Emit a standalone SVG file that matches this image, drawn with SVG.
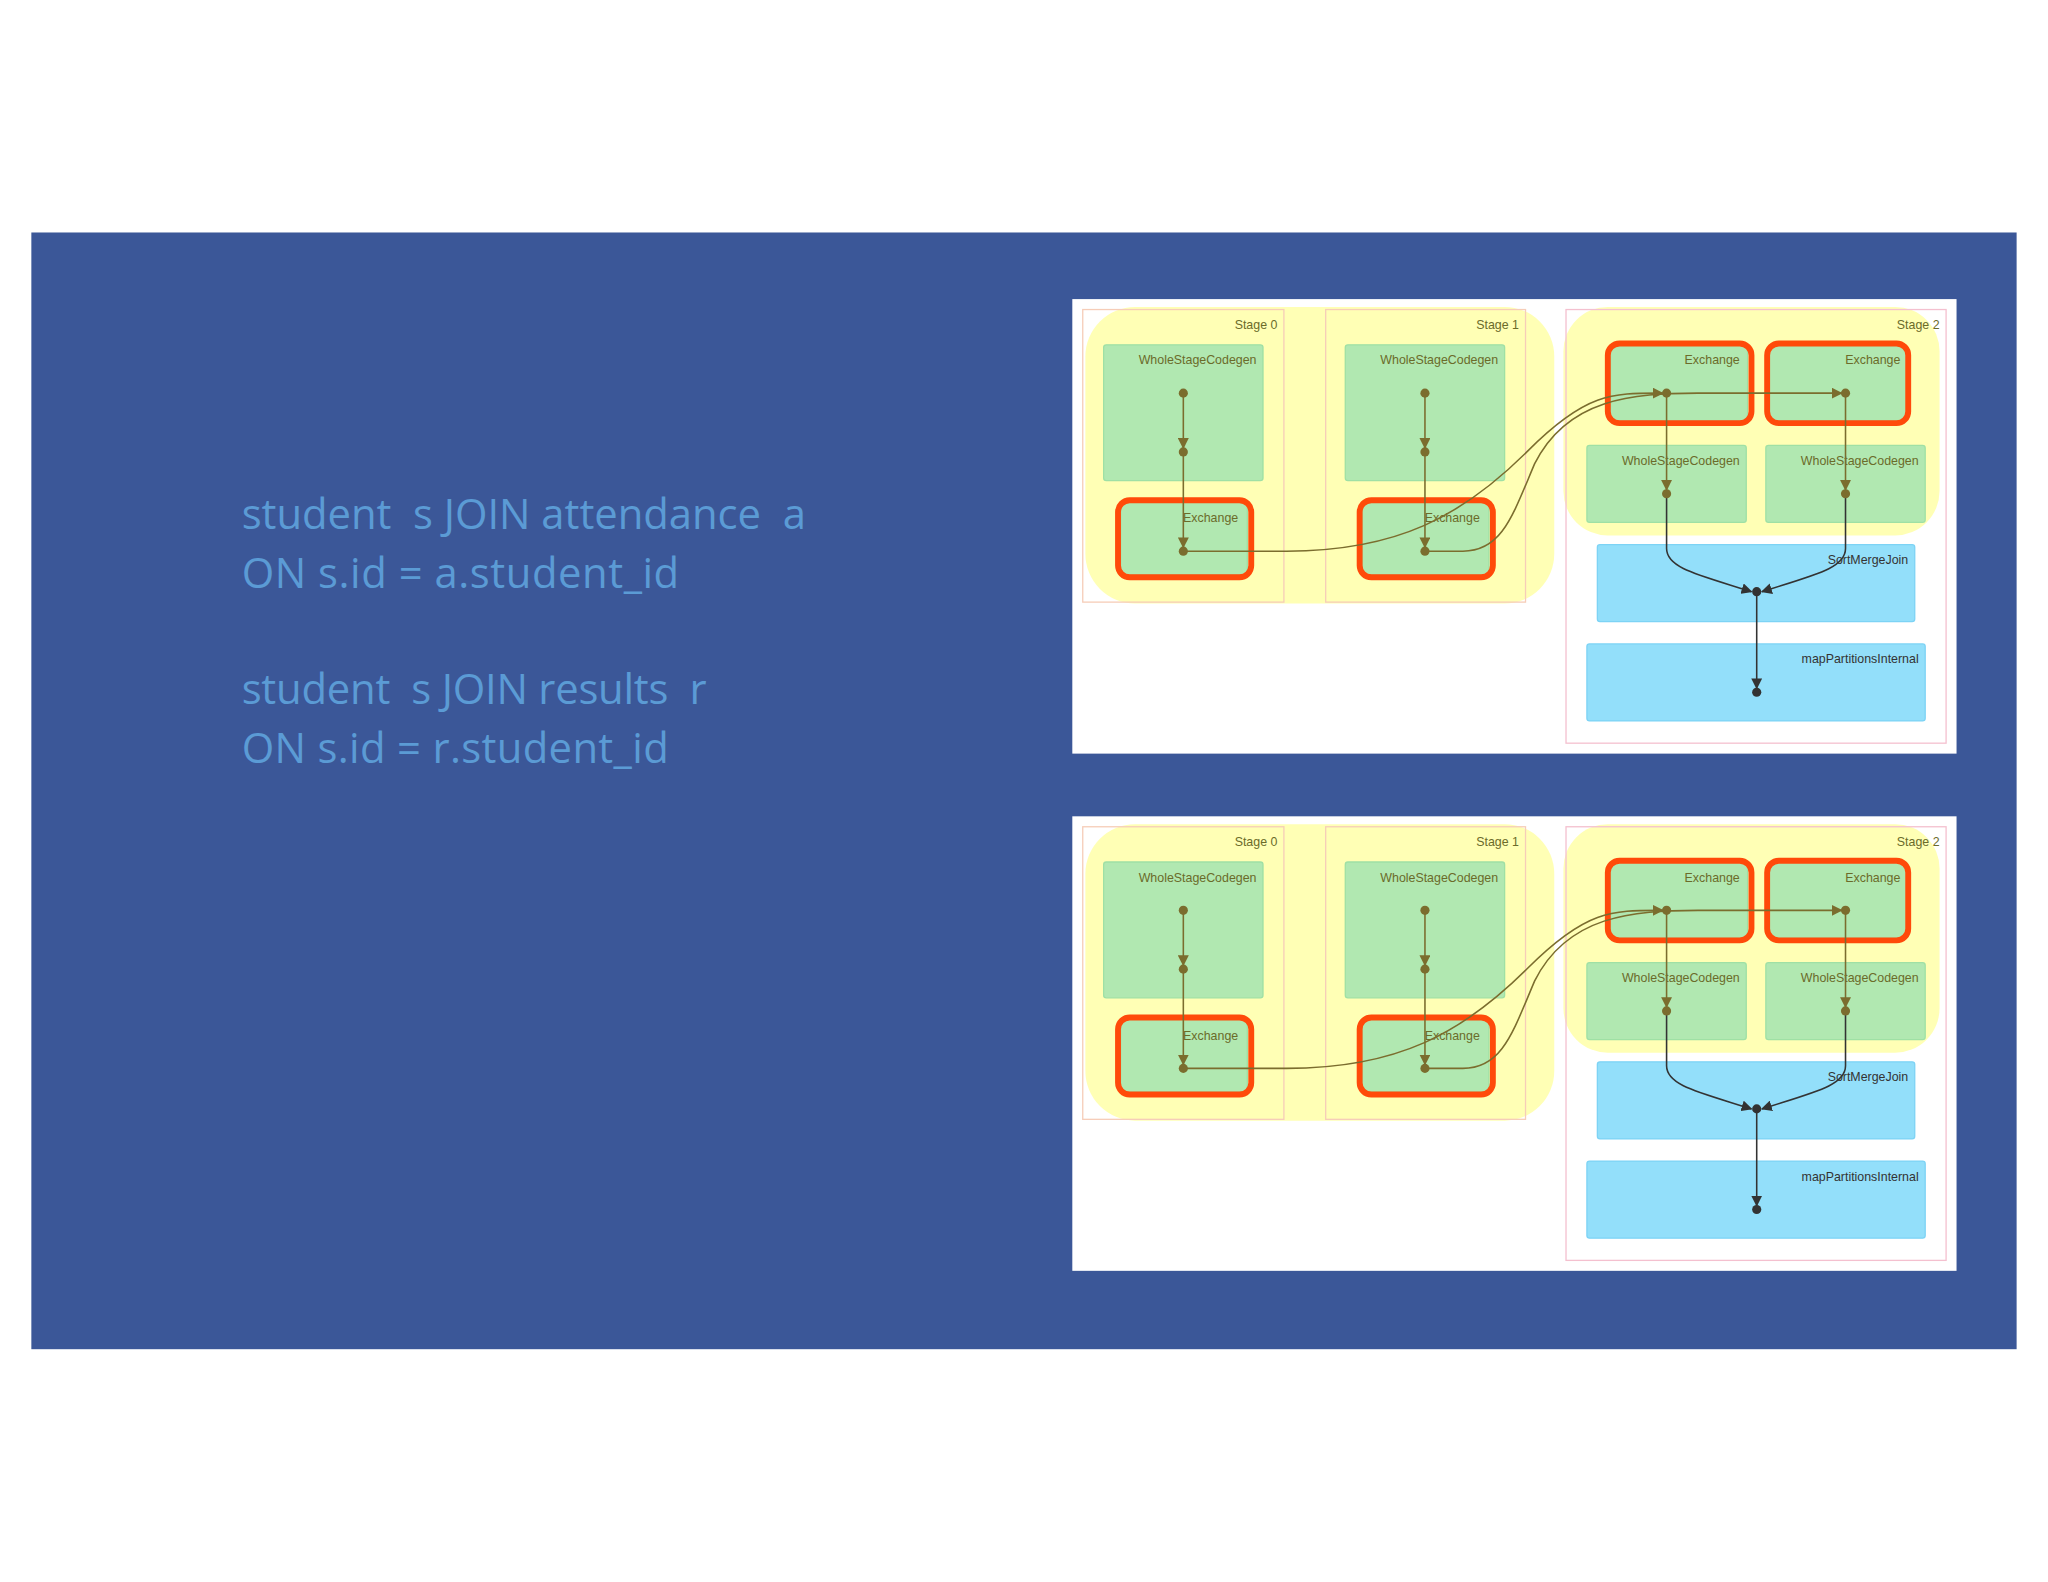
<svg xmlns="http://www.w3.org/2000/svg" xmlns:xlink="http://www.w3.org/1999/xlink" width="2048" height="1582" viewBox="0 0 2048 1582">
<defs>
<style>
.q{font-family:"Open Sans","Liberation Sans",sans-serif;font-size:32px;fill:#5B9BD5;white-space:pre}
.lb{font-family:"Liberation Sans",Arial,sans-serif;font-size:9.5px;fill:#6b6b2a}
.lbb{font-family:"Liberation Sans",Arial,sans-serif;font-size:9.5px;fill:#333}
.cl{fill:none;stroke:#f6cdb8;stroke-width:1}
.cl2{fill:none;stroke:#f4c0cf;stroke-width:1}
.gr{fill:#b1e8b1;stroke:#9fe0a5;stroke-width:1}
.bl{fill:#93dffa;stroke:#7dd3f5;stroke-width:1}
.hl{fill:none;stroke:#ff4a0a;stroke-width:4.5}
.e{fill:none;stroke:#7b6d2e;stroke-width:1.2}
.ed{fill:none;stroke:#333;stroke-width:1.2}
.d{fill:#7b6d2e}
.dd{fill:#333}
</style>
<marker id="a" viewBox="0 0 10 10" refX="9" refY="5" markerWidth="7" markerHeight="7" orient="auto"><path d="M0,0 L10,5 L0,10 z" fill="#7b6d2e"/></marker>
<marker id="ad" viewBox="0 0 10 10" refX="9" refY="5" markerWidth="7" markerHeight="7" orient="auto"><path d="M0,0 L10,5 L0,10 z" fill="#333"/></marker>
</defs>
<rect width="2048" height="1582" fill="#fff"/>
<g transform="scale(1.3061)">
<rect x="24" y="178" width="1520" height="855" fill="#3B5798"/>
<g id="query" xml:space="preserve">
<text class="q" x="185" y="405" textLength="432">student  s JOIN attendance  a</text>
<text class="q" x="185" y="450" textLength="335">ON s.id = a.student_id</text>
<text class="q" x="185" y="539" textLength="356">student  s JOIN results  r</text>
<text class="q" x="185" y="584" textLength="327">ON s.id = r.student_id</text>
</g>
<g id="panel1">
<rect x="821" y="229" width="677" height="348" fill="#fff"/>
<rect x="831" y="235" width="359" height="227" rx="38" fill="#ffffb5"/>
<rect x="1197" y="235" width="288" height="175" rx="34" fill="#ffffb5"/>
<g id="stage0"><rect class="cl" x="829" y="237" width="154" height="224"/><text class="lb" x="978" y="252" text-anchor="end">Stage 0</text></g>
<g id="stage1"><rect class="cl" x="1015" y="237" width="153" height="224"/><text class="lb" x="1163" y="252" text-anchor="end">Stage 1</text></g>
<g id="stage2"><rect class="cl2" x="1199" y="237" width="291" height="332"/><text class="lb" x="1485" y="252" text-anchor="end">Stage 2</text></g>
<g id="wsc0"><rect class="gr" x="845" y="264" width="122" height="104" rx="2"/><text class="lb" x="962" y="279" text-anchor="end">WholeStageCodegen</text></g>
<g id="ex0"><rect class="gr" x="858" y="384" width="97" height="56" rx="2"/><text class="lb" x="948" y="400" text-anchor="end">Exchange</text><rect class="hl" x="856" y="383" width="102" height="59" rx="9"/></g>
<g id="wsc1"><rect class="gr" x="1030" y="264" width="122" height="104" rx="2"/><text class="lb" x="1147" y="279" text-anchor="end">WholeStageCodegen</text></g>
<g id="ex1"><rect class="gr" x="1043" y="384" width="97" height="56" rx="2"/><text class="lb" x="1133" y="400" text-anchor="end">Exchange</text><rect class="hl" x="1041" y="383" width="102" height="59" rx="9"/></g>
<g id="ex2a"><rect class="gr" x="1233" y="264" width="105" height="58" rx="2"/><text class="lb" x="1332" y="279" text-anchor="end">Exchange</text><rect class="hl" x="1231" y="263" width="110" height="61" rx="9"/></g>
<g id="ex2b"><rect class="gr" x="1354" y="264" width="106" height="58" rx="2"/><text class="lb" x="1455" y="279" text-anchor="end">Exchange</text><rect class="hl" x="1353" y="263" width="108" height="61" rx="9"/></g>
<g id="wsc2a"><rect class="gr" x="1215" y="341" width="122" height="59" rx="2"/><text class="lb" x="1332" y="356" text-anchor="end">WholeStageCodegen</text></g>
<g id="wsc2b"><rect class="gr" x="1352" y="341" width="122" height="59" rx="2"/><text class="lb" x="1469" y="356" text-anchor="end">WholeStageCodegen</text></g>
<g id="smj"><rect class="bl" x="1223" y="417" width="243" height="59" rx="2"/><text class="lbb" x="1461" y="432" text-anchor="end">SortMergeJoin</text></g>
<g id="mpi"><rect class="bl" x="1215" y="493" width="259" height="59" rx="2"/><text class="lbb" x="1469" y="508" text-anchor="end">mapPartitionsInternal</text></g>
<g id="edges">
<path class="e" d="M906,301 V343" marker-end="url(#a)"/>
<path class="e" d="M906,346 V419" marker-end="url(#a)"/>
<path class="e" d="M1091,301 V343" marker-end="url(#a)"/>
<path class="e" d="M1091,346 V419" marker-end="url(#a)"/>
<path class="e" d="M906,422 L985,422 C1070,422 1120,395 1170,345 C1215,300 1235,301 1273,301" marker-end="url(#a)"/>
<path class="e" d="M1091,422 L1120,422 C1150,422 1158,395 1175,355 C1200,305 1250,301 1300,301 L1410,301" marker-end="url(#a)"/>
<path class="e" d="M1276,301 V375" marker-end="url(#a)"/>
<path class="e" d="M1413,301 V375" marker-end="url(#a)"/>
<path class="ed" d="M1276,378 V420 C1276,435 1300,440 1341,453" marker-end="url(#ad)"/>
<path class="ed" d="M1413,378 V420 C1413,435 1390,440 1349,453" marker-end="url(#ad)"/>
<path class="ed" d="M1345,453 V527" marker-end="url(#ad)"/>
<circle class="d" cx="906" cy="301" r="3.5"/><circle class="d" cx="906" cy="346" r="3.5"/><circle class="d" cx="906" cy="422" r="3.5"/>
<circle class="d" cx="1091" cy="301" r="3.5"/><circle class="d" cx="1091" cy="346" r="3.5"/><circle class="d" cx="1091" cy="422" r="3.5"/>
<circle class="d" cx="1276" cy="301" r="3.5"/><circle class="d" cx="1413" cy="301" r="3.5"/>
<circle class="d" cx="1276" cy="378" r="3.5"/><circle class="d" cx="1413" cy="378" r="3.5"/>
<circle class="dd" cx="1345" cy="453" r="3.5"/><circle class="dd" cx="1345" cy="530" r="3.5"/>
</g>
</g>
<use xlink:href="#panel1" href="#panel1" y="396"/>
</g>
</svg>
